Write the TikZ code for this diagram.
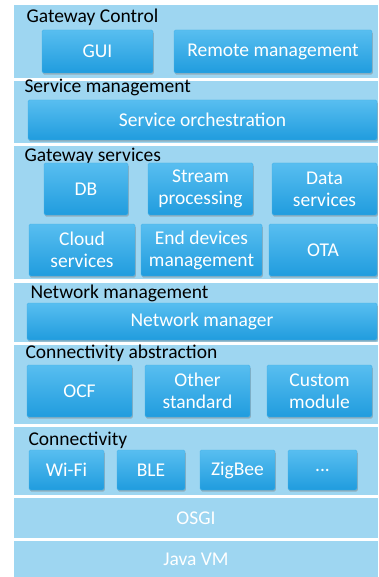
\documentclass[tikz,border=0pt]{standalone}
\usepackage{fontspec}
\setmainfont{Carlito}
\usetikzlibrary{shadows}

\definecolor{layerbg}{RGB}{158,214,241}
\definecolor{boxtop}{RGB}{88,190,240}
\definecolor{boxbot}{RGB}{32,156,222}
\definecolor{boxline}{RGB}{70,178,232}

\tikzset{
  layer/.style={fill=layerbg},
  block/.style={rounded corners=1.5pt, top color=boxtop, bottom color=boxbot,
    draw=boxline, line width=0.4pt, text=white, inner sep=0pt, align=center,
    drop shadow={shadow xshift=0.8pt, shadow yshift=-1.6pt, opacity=0.45}},
  size/.style 2 args={minimum width=#1pt, minimum height=#2pt},
  title/.style={anchor=base west, text=black},
  base/.style={text=white}
}

\begin{document}
\begin{tikzpicture}[x=1pt, y=-1pt, font=\fontsize{19.5}{22}\selectfont]

    \useasboundingbox (0,0) rectangle (378,577);

    % layers
    \path[layer] (14,5) rectangle (378,78);
    \path[layer] (14,81) rectangle (378,143);
    \path[layer] (14,146) rectangle (378,279);
    \path[layer] (14,283) rectangle (378,342);
    \path[layer] (14,345) rectangle (378,424);
    \path[layer] (14,427) rectangle (378,495);
    \path[layer] (14,498) rectangle (378,538);
    \path[layer] (14,541) rectangle (378,577);

    % gateway control
    \node[title] (ctrl) at (23,23) {Gateway Control};
    \node[block, size={111}{43}] (gui) at (97.5,51.5) {GUI};
    \node[block, size={198}{43}] (remote) at (273,51.5) {Remote management};

    % service management
    \node[title] (srvmgmt) at (21,93) {Service management};
    \node[block, size={349}{40}] (orch) at (202.5,120) {Service orchestration};

    % gateway services
    \node[title] (gwsrv) at (21,162) {Gateway services};
    \node[block, size={84}{52}] (db) at (86,189) {DB};
    \node[block, size={105}{52}] (stream) at (200.5,189) {Stream\\processing};
    \node[block, size={105}{52}] (data) at (324.5,189) {Data\\services};
    \node[block, size={106}{52}] (cloud) at (82,250) {Cloud\\services};
    \node[block, size={121}{52}] (devices) at (201.5,250) {End devices\\management};
    \node[block, size={108}{52}] (ota) at (323,250) {OTA};

    % network management
    \node[title] (netmgmt) at (27,298) {Network management};
    \node[block, size={350}{37}] (netman) at (202,321.5) {Network manager};

    % connectivity abstraction
    \node[title] (abstr) at (22,358) {Connectivity abstraction};
    \node[block, size={105}{52}] (ocf) at (79.5,391) {OCF};
    \node[block, size={105}{52}] (other) at (197.5,391) {Other\\standard};
    \node[block, size={105}{52}] (custom) at (319.5,391) {Custom\\module};

    % connectivity
    \node[title] (conn) at (25,445) {Connectivity};
    \node[block, size={75}{40}] (wifi) at (66.5,470) {Wi-Fi};
    \node[block, size={68}{40}] (ble) at (151,470) {BLE};
    \node[block, size={75}{40}] (zigbee) at (237.5,470) {ZigBee};
    \node[block, size={69}{40}] (more) at (322.5,470) {...};

    % runtime
    \node[base] (osgi) at (196,518) {OSGI};
    \node[base] (jvm) at (196,559) {Java VM};

\end{tikzpicture}
\end{document}
